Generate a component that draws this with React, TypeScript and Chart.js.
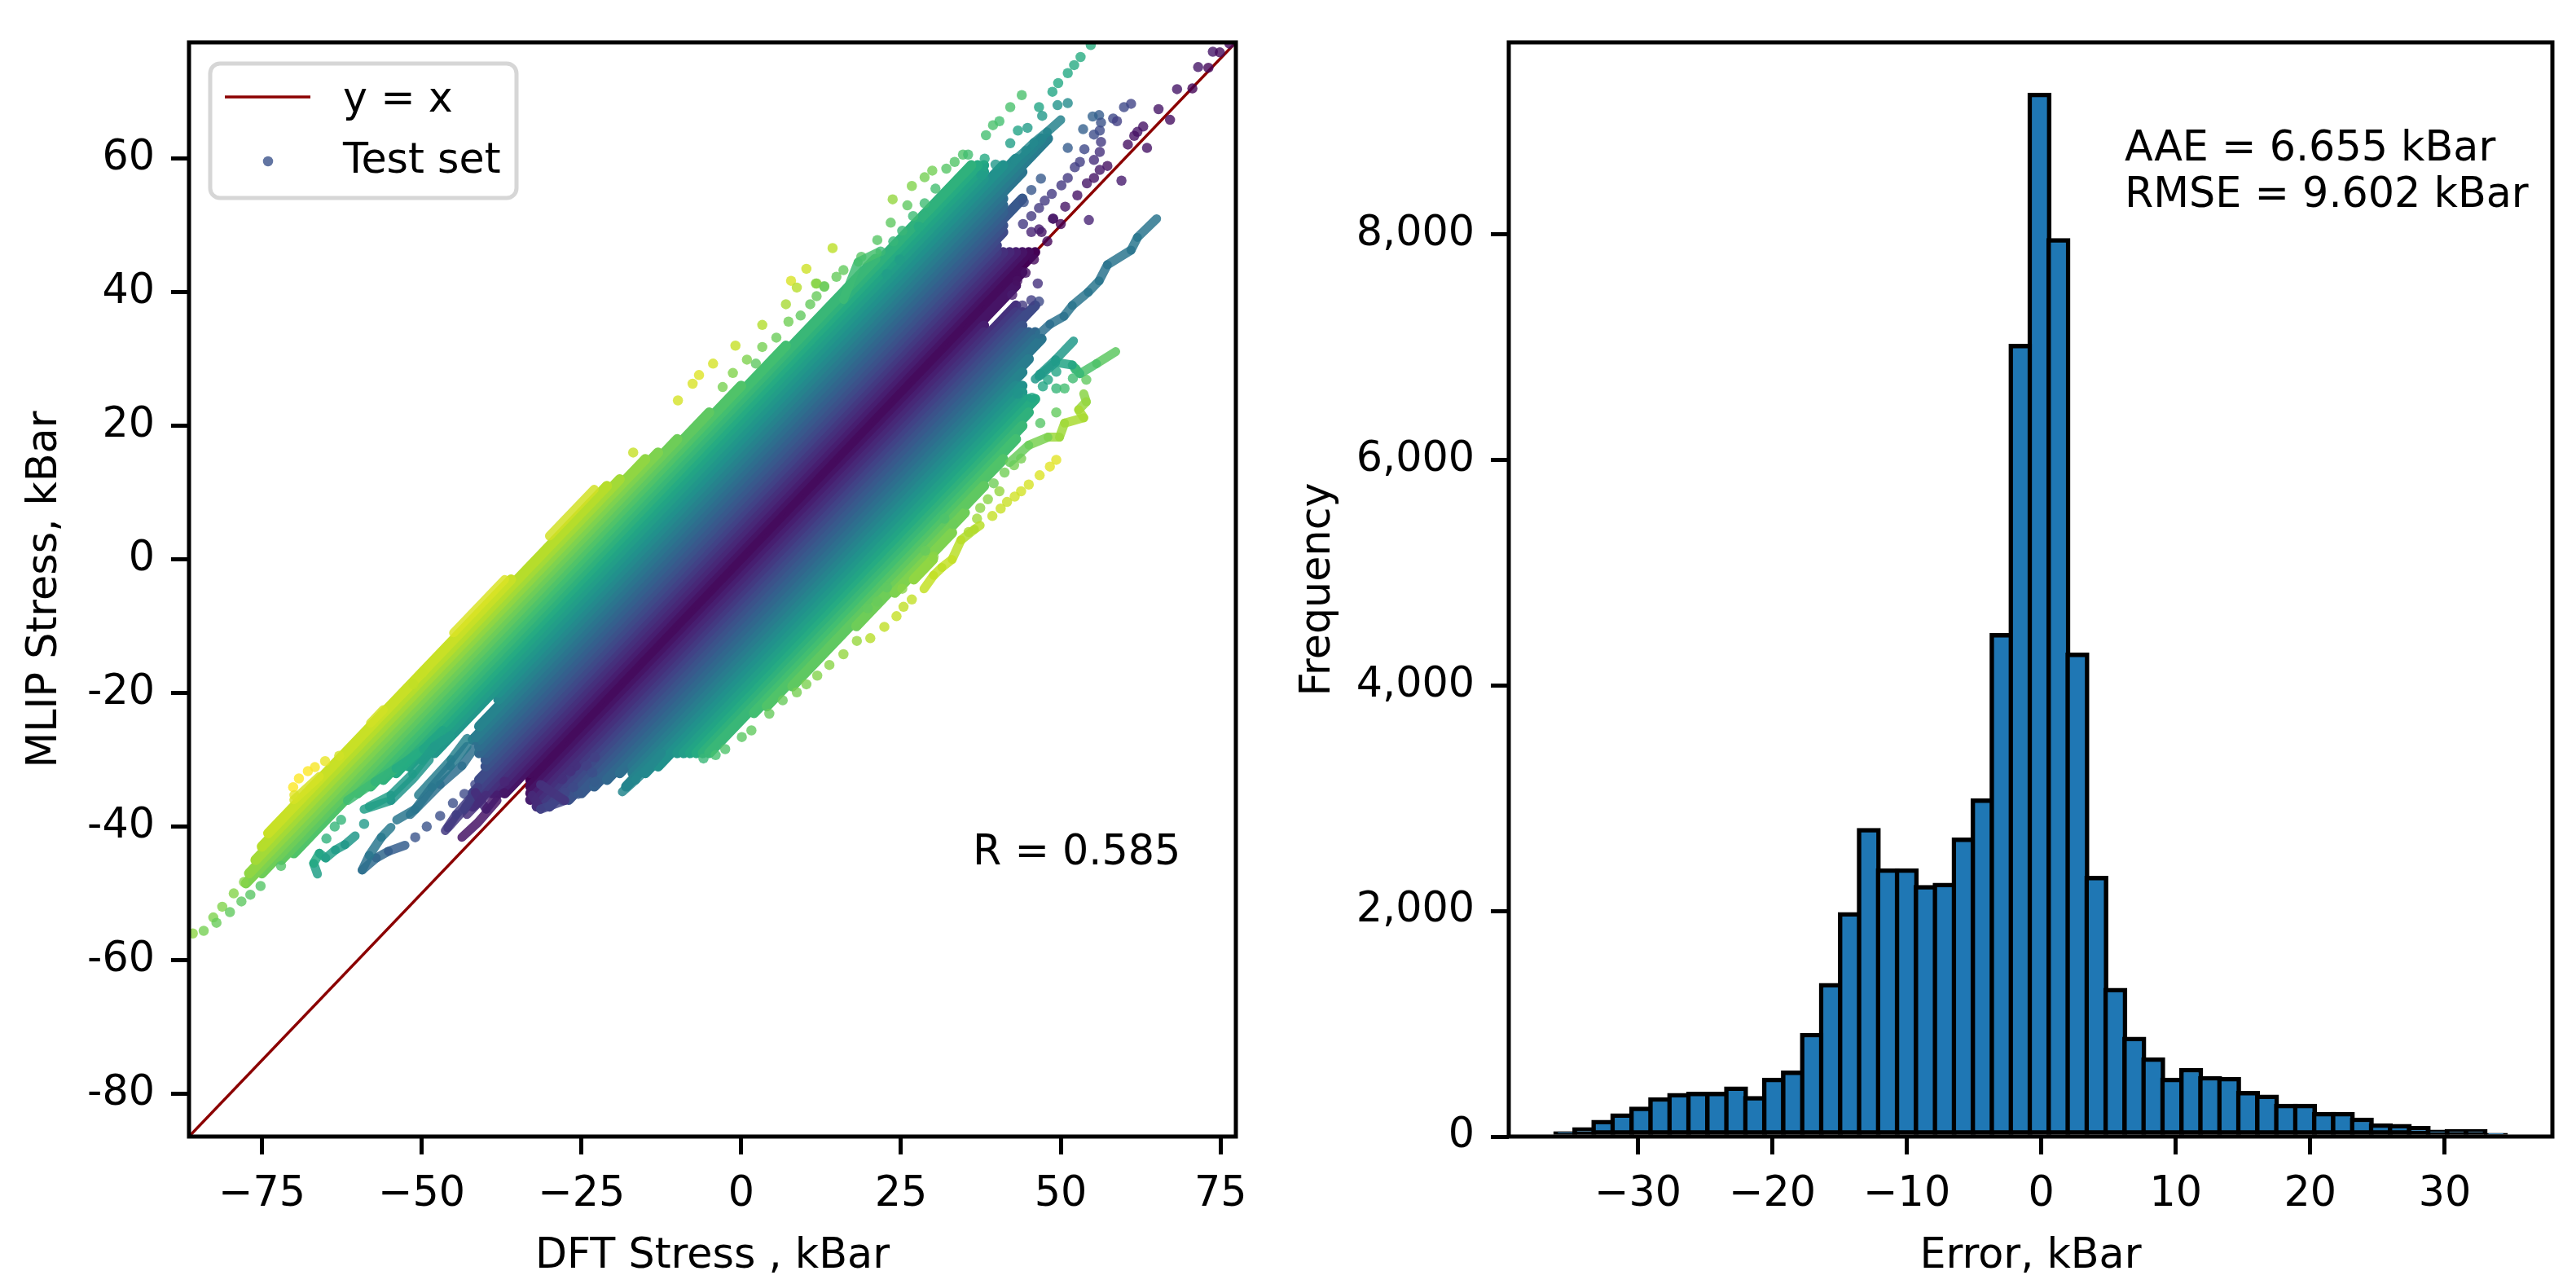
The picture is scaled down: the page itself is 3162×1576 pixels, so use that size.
import React, { useEffect, useRef } from "react";
import { Chart, registerables } from "chart.js";

Chart.register(...registerables);

const FONT = '"DejaVu Sans"';
const FS = 50.75;

// ---------- left panel: band of the cloud, read per error level (MLIP - DFT)
const stripError = [33,32,31,30,29,28,27,26,25,24,23,22,21,20,19,18,17,16,15,14,13,12,11,10,9,8,7,6,5,4,3,2,1,0,-1,-2,-3,-4,-5,-6,-7,-8,-9,-10,-11,-12,-13,-14,-15,-16,-17,-18,-19,-20,-21,-22,-23,-24,-25,-26,-27,-28,-29,-30];
const stripStartX = [-74,-75,-76,-77,-77.5,-75,-72,-70,-60,-58,-56,-54,-52,-50,-48,-38,-38,-41,-42,-41,-41,-41,-40,-40,-40,-41,-42,-43,-42,-39,-38,-37,-33,-33,-33,-33,-33,-32,-32,-31,-30,-28,-27,-25,-23,-21,-19,-17,-17,-18,-15,-13,-10,-9,-8,-7,-6,-5,2,4,8,18,24,27];
const stripEndX = [-36,-21,-19,-15,-13,-10,-5,0,7,21,36,37,38,38,38,41,43,47,48,44,41,41,41,44,41,41,40,40,41,42,43,44,45,46,44,43,38,38,43,43,44,46,44,44,45,46,46,47,45,44,43,44,44,44,45,46,45,44,43,41,38,35,33,30];

// ---------- thin strands leaving the band
const strandBlueX = [65,62,61,57.3,56,54.3,51.8,50.5,48.3,46.6];
const strandBlueY = [51,48.2,46.3,44.1,41.7,40,38,36.4,35.2,33.7];
const strandGreenX = [58.6,55.6,53,51.8,49.2,46.6];
const strandGreenY = [31.1,29.3,27.8,29.1,29.5,27.4];
const strandTealX = [52,49.2,46];
const strandTealY = [32.7,29.9,27];
const strandLimeX = [53.6,54,52.8,53.6,50.6,49.8,48,45,42];
const strandLimeY = [24.8,23.6,22.4,21.2,20.4,18.3,18.3,17.1,14.5];
const strandEdgeX = [37.4,36.5,34.4,33,31.4,30.1,28.6];
const strandEdgeY = [5.1,4.5,2.9,0,-1.2,-2.4,-4.4];
const strandTeal2X = [-66.3,-66.9,-66,-65,-63.5,-62,-60.4];
const strandTeal2Y = [-47.1,-45.5,-44,-44.7,-43.5,-42.7,-41.4];
const strandBlue2X = [-59.3,-58.2,-56.3,-54.8];
const strandBlue2Y = [-46.5,-44.3,-41.6,-40.1];
const strandBlue3X = [-59.3,-57.1,-55.2,-52.6];
const strandBlue3Y = [-46.5,-44.7,-43.7,-42.8];
const strandMidX = [-53.9,-51,-48.4,-45.5,-42.9];
const strandMidY = [-39,-37.4,-34.1,-30.9,-28];
const strandLowX = [-51.8,-47.1,-43.7,-41.6];
const strandLowY = [-38.2,-33.7,-30.9,-28];
const strandHighX = [-50.5,-45.4,-42.9];
const strandHighY = [-35.3,-30,-26.8];
const strandUpX = [-58.2,-54.8,-51.4,-48,-45.5];
const strandUpY = [-37,-35.3,-32.1,-28,-26.4];
const strandUp2X = [-59,-54.8,-51.4,-48.8];
const strandUp2Y = [-37.4,-36.1,-32.9,-30];
const strandUp3X = [-61.6,-57.3,-54,-49.7,-46.7];
const strandUp3Y = [-36.1,-33.3,-31.3,-28.4,-25.6];
const strandPurpleX = [-46.3,-44.6,-41.6,-39.9,-38.2];
const strandPurpleY = [-40.6,-38.2,-34.9,-37.4,-35.3];
const strandPurple2X = [-43.7,-41.2,-38.2];
const strandPurple2Y = [-41.6,-39.4,-36.1];
const strandPurple3X = [-45.9,-43.3,-41.2];
const strandPurple3Y = [-40.2,-37.4,-34.1];
const strandPurple4X = [-42.9,-41.2,-39.9];
const strandPurple4Y = [-38.2,-36.5,-35.3];
const strandTipX = [-32.7,-31.4,-27.6,-31.4];
const strandTipY = [-35.3,-37.4,-36.1,-33.7];
const strandSouthX = [-18.6,-16.5,-14,-12.5];
const strandSouthY = [-34.8,-33,-30.7,-29];
const strandNorthX = [50,47.9,45.8,44.5,42.8];
const strandNorthY = [65.8,64,62.4,61.2,59.8];
const strandGreen3X = [16,18.3,21.3];
const strandGreen3Y = [38.9,44.5,45.9];
const strandCrest1X = [-45,-37];
const strandCrest1Y = [-11,-3];
const strandCrest2X = [-30,-23];
const strandCrest2Y = [3.5,10.5];
const strandCrest3X = [-58,-56];
const strandCrest3Y = [-24.5,-22.5];
const strandCrest4X = [-70,-66];
const strandCrest4Y = [-36,-32.5];

// ---------- single points seen outside the band
const dotX = [76.4,73.8,74.9,71.5,73.1,68.2,70.6,65.3,67.1,62.9,62,61.5,60.5,63.5,59.5,54.4,46.4,61,59.9,58.2,58.8,56,55,56.3,53.5,56.1,55.2,56.3,51.1,53.7,56.1,53,55.2,57.3,56.1,52.2,51.1,55.2,54.1,50.1,46.9,48.6,47.5,52.6,50.7,46.6,45.4,48.8,44.1,54.7,53.1,52.1,51.1,49.6,48.7,51.1,49.5,46.6,47.1,43.9,42.1,40.4,39.4,38.3,44.8,43.3,42.1,34.7,35.5,33.4,32.1,29.9,28.7,26.7,23.7,26,26.9,28.5,23.4,21.3,23.8,14.3,18.8,16,14.9,13,11.8,11.8,22.8,24.8,38.1,39.8,37.6,30.4,28.7,27.8,25.2,21.8,10.2,7.8,8.7,7,3.3,-0.9,-4.4,-6.6,-7.6,-9.9,-16.9,-1.3,-2.9,0.9,2.3,11.7,10.8,13,3.3,5.5,9.3,7.4,-85.8,-84.1,-82.6,-82.1,-81.2,-80,-79.4,-78.2,-76.8,-75.2,-77.8,-72,-64.9,-63.6,-62.6,-59,-51,-49.2,-47.1,-45.1,-43.3,-37.1,-37,-41.6,-27.6,-25.5,-22.9,-26.3,-28,-25.9,-24.2,-22.9,-23.3,-26.7,-65.1,-66.7,-67.8,-69.2,-70.1,-69.9,-62.9,-51.3,-49.9,49.3,48.3,46.7,45,43.8,42.8,41.6,40.6,39.3,26.7,25.4,24.3,22.4,20.2,18.1,16,13.8,11.9,10.2,8.7,6.5,4.4,1.6,0.1,-2.5,-4,-5.9,22.8,19.8,21.3,25.2,39.5,40.4,43.3,45.5,47.2,49.3,50.6,48,51.9,54,46.8,49.3,52.3,49.3,46.8,47,48.8,50,46.6,47.9,45.4,45.8,44.5,43.2,42.4,45.4,44,46.6,45.4,44.2,37.4,36.9,35.6,33.1,31.8,30.1,28.8,43.8,42.7,41.2,38.6,35.2];
const dotY = [77.2,76,75.9,73.7,73.6,70.4,70.5,67.4,65.8,64.8,64,63.4,62.1,61.6,56.7,50.8,41.3,68.2,67.7,66,65.6,66.5,66.3,65.4,64.4,64.2,63.6,62.5,61.6,61.4,61,59.5,59.8,58.9,58.3,58.7,57.1,57.1,56.3,56,57,54.7,53.7,54.5,52.8,52.6,51.4,51,50.2,77,75.2,74,72.8,71.3,70,68.3,68,67.7,66.4,69.5,67.7,65.6,65,63.5,64.6,64.2,62.3,60.6,60.6,59.5,58.5,58.2,57.2,55.9,53.9,53,51.4,51.5,50.4,47.8,47.6,46.6,45.3,43.3,42.3,40.9,41.3,39.4,42.7,44.9,60,59.1,57.5,55.5,53.3,49.8,49.2,46.1,43.5,41.7,40.7,38.2,35.1,32,29.3,27.6,26.3,23.8,16,27.9,25.8,29.9,29.3,41.3,38.2,40.8,31.8,33.2,36.5,35.6,-56,-55.6,-53.6,-54.4,-52,-52.8,-50,-51.2,-50.2,-48.9,-48.3,-45.9,-41.8,-40,-39,-39.6,-41.6,-40,-38.4,-36.5,-35.1,-35,-33.3,-33.7,-34.9,-35.1,-33.3,-34.1,-32.9,-30.9,-30.9,-29.6,-31.9,-31.7,-30.2,-31.1,-31.7,-32.8,-34.1,-35.3,-29.4,-18.7,-17,14.9,13.9,12.6,11.2,10.2,9.4,8.6,7.6,6.5,-6,-7.1,-8.5,-10.1,-11.8,-12.2,-14.2,-15.8,-17.4,-18.7,-19.9,-21.1,-23.1,-25.6,-26.6,-28.4,-29.3,-29.8,-4.2,-7.3,-6.3,-4.4,11.4,10.2,24.8,24.2,25.9,25.6,25.6,26.9,27.1,26.9,27.7,28.1,28.5,22,20.4,49,51,50.2,49.4,47.6,49,44.9,42.9,41.7,39.6,38.8,38,38.6,55.3,53.5,7.7,6.1,4.1,5.3,6.1,0.4,1.3,15.1,14.1,13,9,8.2];

const diagonalX = [-86.4, 77.4];
const diagonalY = [-86.4, 77.4];
const leftLimits = [-86.4, 77.4];
const leftXTicks = [-75, -50, -25, 0, 25, 50, 75];
const leftYTicks = [-80, -60, -40, -20, 0, 20, 40, 60];

// ---------- right panel: histogram
const binCenters = [-35.4,-33.98,-32.57,-31.16,-29.75,-28.34,-26.93,-25.52,-24.11,-22.7,-21.29,-19.88,-18.47,-17.06,-15.65,-14.24,-12.83,-11.42,-10.01,-8.6,-7.19,-5.78,-4.37,-2.96,-1.55,-0.14,1.27,2.68,4.09,5.5,6.91,8.32,9.73,11.14,12.55,13.96,15.37,16.78,18.19,19.6,21.01,22.42,23.83,25.24,26.65,28.06,29.47,30.88,32.29,33.8];
const binCounts = [25,60,125,183,244,327,364,375,375,422,337,499,563,898,1339,1969,2715,2356,2356,2208,2229,2630,2977,4443,7008,9235,7945,4270,2290,1296,863,680,499,587,515,507,382,350,268,268,196,196,146,95,90,72,40,42,42,10];
const rightXTicks = [-30, -20, -10, 0, 10, 20, 30];
const rightYTicks = [0, 2000, 4000, 6000, 8000];
const rightXLimits = [-39.6, 38.0];
const rightYMax = 9704;

const legendLabels = ["y = x", "Test set"];
const scoreLabels = ["AAE = 6.655 kBar", "RMSE = 9.602 kBar"];
const correlationLabel = "R = 0.585";

const VIRIDIS = [[68,1,84],[72,36,117],[65,68,135],[53,95,141],[42,120,142],[33,145,140],[34,168,132],[68,191,112],[122,209,81],[189,223,38],[253,231,37]];
const ERROR_MAX = 36;
function errorColor(e: number, alpha: number) {
  const t = Math.min(1, Math.abs(e) / ERROR_MAX) * 10;
  const i = Math.min(9, Math.floor(t));
  const f = t - i;
  const c = VIRIDIS[i].map((v, k) => Math.round(v + (VIRIDIS[i + 1][k] - v) * f));
  return `rgba(${c[0]},${c[1]},${c[2]},${alpha})`;
}
const minusLabel = (v: number) => (v < 0 ? "\u2212" + Math.abs(v) : String(v));

const spines = {
  id: "spines",
  afterDraw(chart: any) {
    const { ctx, chartArea: a } = chart;
    ctx.save();
    ctx.strokeStyle = "#000";
    ctx.lineWidth = 5;
    ctx.lineJoin = "miter";
    ctx.strokeRect(a.left, a.top, a.right - a.left, a.bottom - a.top);
    ctx.restore();
  },
};

function axisBase(font: any) {
  return {
    grid: { display: true, offset: false, drawOnChartArea: false, drawTicks: true, tickLength: 22, tickWidth: 5, tickColor: "#000", color: "#000", lineWidth: 5 },
    border: { display: false },
    ticks: { color: "#000", font, autoSkip: false, maxRotation: 0, minRotation: 0 },
  };
}

export default function App() {
  const leftRef = useRef<HTMLCanvasElement>(null);
  const rightRef = useRef<HTMLCanvasElement>(null);

  useEffect(() => {
    const font = { family: FONT, size: FS };
    const lineDataset = (xs: number[], ys: number[]) => ({
      data: xs.map((x, i) => ({ x, y: ys[i] })),
      showLine: true, pointRadius: 0, borderWidth: 11, borderCapStyle: "round", borderJoinStyle: "round", fill: false, tension: 0,
      borderColor: errorColor(ys[0] - xs[0], 0.85),
      segment: {
        borderColor: (c: any) => errorColor((c.p0.parsed.y - c.p0.parsed.x + c.p1.parsed.y - c.p1.parsed.x) / 2, 0.85),
      },
    });
    const strands = [
      [strandBlueX, strandBlueY],[strandGreenX, strandGreenY],[strandTealX, strandTealY],[strandLimeX, strandLimeY],[strandEdgeX, strandEdgeY],
      [strandTeal2X, strandTeal2Y],[strandBlue2X, strandBlue2Y],[strandBlue3X, strandBlue3Y],[strandMidX, strandMidY],[strandLowX, strandLowY],[strandHighX, strandHighY],
      [strandUpX, strandUpY],[strandUp2X, strandUp2Y],[strandUp3X, strandUp3Y],
      [strandPurpleX, strandPurpleY],[strandPurple2X, strandPurple2Y],[strandPurple3X, strandPurple3Y],[strandPurple4X, strandPurple4Y],[strandTipX, strandTipY],[strandSouthX, strandSouthY],[strandNorthX, strandNorthY],[strandGreen3X, strandGreen3Y],
      [strandCrest1X, strandCrest1Y],[strandCrest2X, strandCrest2Y],[strandCrest3X, strandCrest3Y],[strandCrest4X, strandCrest4Y],
    ].map(([xs, ys]) => lineDataset(xs, ys));

    const stripOrder = stripError.map((_, i) => i).sort((a, b) => Math.abs(stripError[b]) - Math.abs(stripError[a]));
    const strips = stripOrder.map((i) => {
      const e = stripError[i];
      return {
        data: [{ x: stripStartX[i], y: stripStartX[i] + e }, { x: stripEndX[i], y: stripEndX[i] + e }],
        showLine: true, pointRadius: 0, borderWidth: 12.5, borderColor: errorColor(e, 1), borderCapStyle: "round", fill: false,
      };
    });

    const dots = {
      label: legendLabels[1],
      data: dotX.map((x, i) => ({ x, y: dotY[i] })),
      showLine: false,
      pointRadius: 6.25,
      pointBorderWidth: 0,
      pointBackgroundColor: dotX.map((x, i) => errorColor(dotY[i] - x, 0.8)),
    };

    const diagonal = {
      label: legendLabels[0],
      data: diagonalX.map((x, i) => ({ x, y: diagonalY[i] })),
      showLine: true, pointRadius: 0, borderWidth: 3.5, borderColor: "#8B0000", fill: false,
    };

    const leftOverlay = {
      id: "leftOverlay",
      afterDraw(chart: any) {
        const ctx = chart.ctx;
        ctx.save();
        ctx.beginPath();
        ctx.roundRect(258, 78, 376, 165, 12);
        ctx.fillStyle = "rgba(255,255,255,0.8)";
        ctx.fill();
        ctx.strokeStyle = "#d6d6d6";
        ctx.lineWidth = 5;
        ctx.stroke();
        ctx.strokeStyle = "#8B0000";
        ctx.lineWidth = 3.5;
        ctx.beginPath();
        ctx.moveTo(276, 119);
        ctx.lineTo(381, 119);
        ctx.stroke();
        ctx.fillStyle = "rgba(59,82,139,0.8)";
        ctx.beginPath();
        ctx.arc(329, 198, 6.25, 0, Math.PI * 2);
        ctx.fill();
        ctx.fillStyle = "#000";
        ctx.font = `${FS}px ${FONT}`;
        ctx.textBaseline = "alphabetic";
        ctx.textAlign = "left";
        ctx.fillText(legendLabels[0], 421, 137);
        ctx.fillText(legendLabels[1], 421, 212);
        ctx.fillText(correlationLabel, 1194, 1061);
        ctx.restore();
      },
    };

    const left = new Chart(leftRef.current!, {
      type: "scatter",
      data: { datasets: [...strands, dots, ...strips, diagonal] as any },
      plugins: [leftOverlay, spines],
      options: {
        responsive: false, animation: false,
        layout: { padding: { top: 52, right: 43, left: 0, bottom: 0 } },
        plugins: { legend: { display: false }, tooltip: { enabled: false } },
        scales: {
          x: {
            type: "linear", min: leftLimits[0], max: leftLimits[1], ...axisBase(font),
            afterBuildTicks: (s: any) => { s.ticks = leftXTicks.map((value) => ({ value })); },
            afterFit: (s: any) => { s.height = 181; },
            title: { display: true, text: "DFT Stress , kBar", color: "#000", font, padding: { top: 0, bottom: 3 } },
            ticks: { ...axisBase(font).ticks, padding: 19, callback: (v: any) => minusLabel(Number(v)) },
          },
          y: {
            type: "linear", min: leftLimits[0], max: leftLimits[1], ...axisBase(font),
            afterBuildTicks: (s: any) => { s.ticks = leftYTicks.map((value) => ({ value })); },
            afterFit: (s: any) => { s.width = 232; },
            title: { display: true, text: "MLIP Stress, kBar", color: "#000", font, padding: { top: 25, bottom: 0 } },
            ticks: { ...axisBase(font).ticks, padding: 20, callback: (v: any) => String(v) },
          },
        },
      } as any,
    });

    const edgeLift = {
      id: "edgeLift",
      afterDatasetsUpdate(chart: any) {
        // the black edge is centred on the bin's height, so each bar's outer box rises by half a line
        chart.getDatasetMeta(0).data.forEach((b: any) => { b.y -= 2.75; });
      },
    };
    const rightOverlay = {
      id: "rightOverlay",
      afterDraw(chart: any) {
        const ctx = chart.ctx;
        ctx.save();
        ctx.fillStyle = "#000";
        ctx.font = `${FS}px ${FONT}`;
        ctx.textBaseline = "alphabetic";
        ctx.textAlign = "left";
        ctx.fillText(scoreLabels[0], 2608 - 1560, 197);
        ctx.fillText(scoreLabels[1], 2608 - 1560, 254);
        ctx.restore();
      },
    };

    const right = new Chart(rightRef.current!, {
      type: "bar",
      data: {
        datasets: [{
          data: binCenters.map((x, i) => ({ x, y: binCounts[i] })),
          backgroundColor: "#1f77b4", borderColor: "#000", borderWidth: 5.5, borderSkipped: false,
          barThickness: 28.8,
        }] as any,
      },
      plugins: [edgeLift, rightOverlay, spines],
      options: {
        responsive: false, animation: false,
        layout: { padding: { top: 52, right: 29, left: 0, bottom: 0 } },
        plugins: { legend: { display: false }, tooltip: { enabled: false } },
        scales: {
          x: {
            type: "linear", min: rightXLimits[0], max: rightXLimits[1], offset: false, ...axisBase(font),
            afterBuildTicks: (s: any) => { s.ticks = rightXTicks.map((value) => ({ value })); },
            afterFit: (s: any) => { s.height = 181; },
            title: { display: true, text: "Error, kBar", color: "#000", font, padding: { top: 0, bottom: 3 } },
            ticks: { ...axisBase(font).ticks, padding: 19, callback: (v: any) => minusLabel(Number(v)) },
          },
          y: {
            type: "linear", min: 0, max: rightYMax, ...axisBase(font),
            afterBuildTicks: (s: any) => { s.ticks = rightYTicks.map((value) => ({ value })); },
            afterFit: (s: any) => { s.width = 292; },
            title: { display: true, text: "Frequency", color: "#000", font, padding: { top: 28, bottom: 0 } },
            ticks: { ...axisBase(font).ticks, padding: 20, callback: (v: any) => Number(v).toLocaleString("en-US") },
          },
        },
      } as any,
    });

    return () => { left.destroy(); right.destroy(); };
  }, []);

  return (
    <div style={{ position: "fixed", left: 0, top: 0, width: 3162, height: 1576, background: "#fff" }}>
      <canvas ref={leftRef} width={1560} height={1576} style={{ position: "absolute", left: 0, top: 0, width: 1560, height: 1576 }} />
      <canvas ref={rightRef} width={1602} height={1576} style={{ position: "absolute", left: 1560, top: 0, width: 1602, height: 1576 }} />
    </div>
  );
}
